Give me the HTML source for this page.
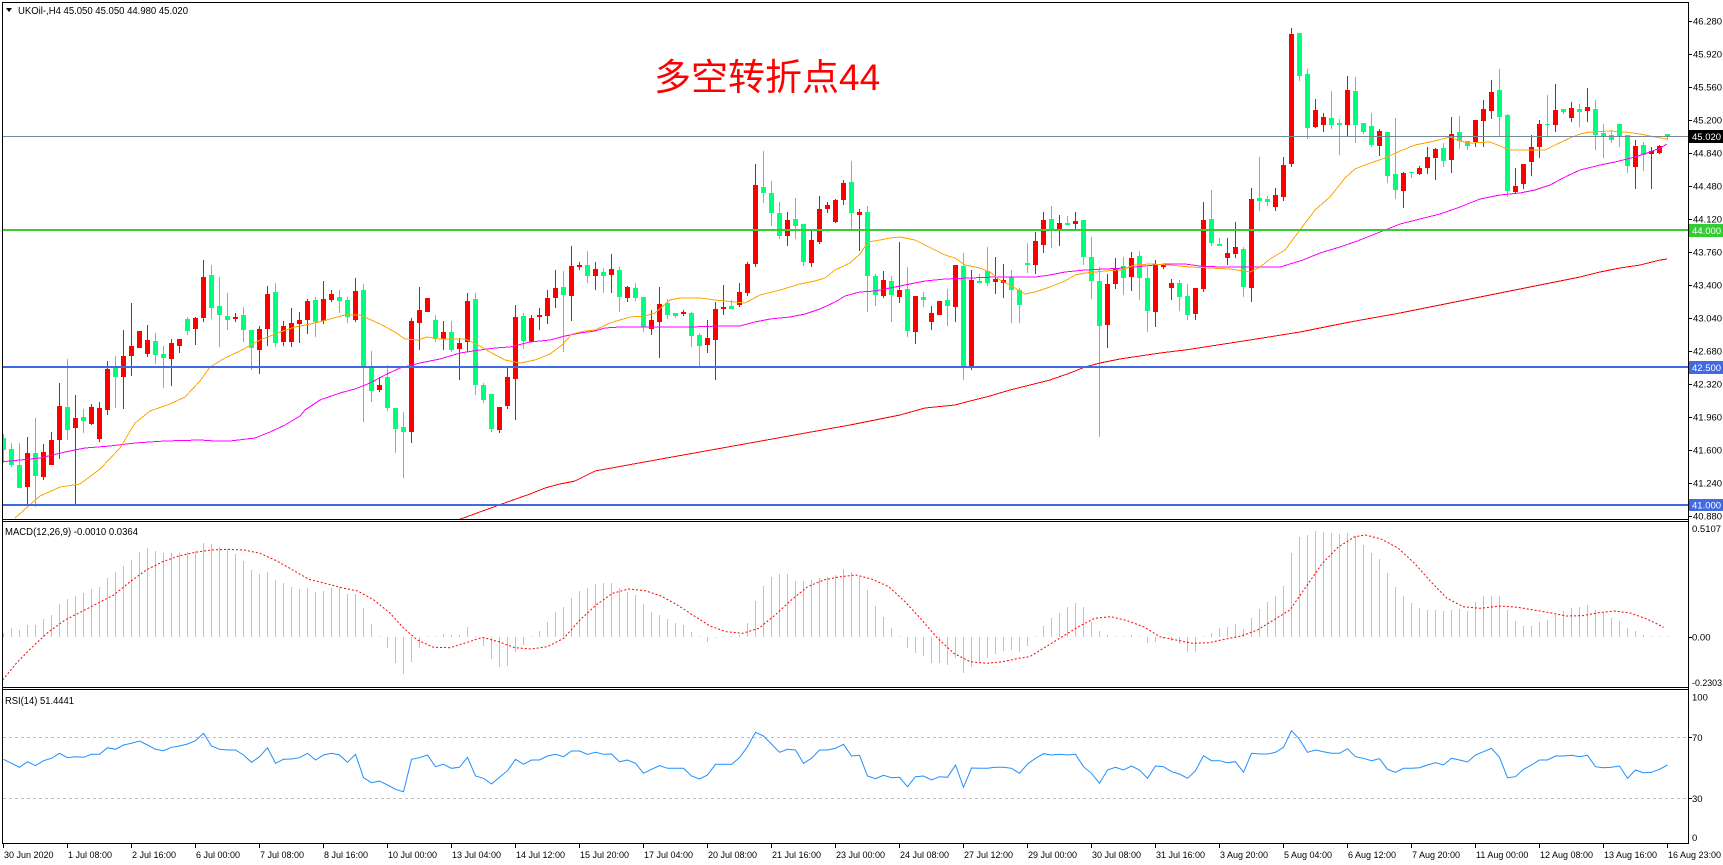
<!DOCTYPE html>
<html><head><meta charset="utf-8">
<style>
html,body{margin:0;padding:0;background:#fff;overflow:hidden;}
svg{display:block;}
text{font-family:"Liberation Sans","DejaVu Sans",sans-serif;font-size:10px;fill:#000;}
.ax text{font-size:9.5px;}
.tm text{font-size:9px;}
</style></head>
<body>
<svg id="s" width="1723" height="865" viewBox="0 0 1723 865" xmlns="http://www.w3.org/2000/svg">
<defs>
<clipPath id="cm"><rect x="3" y="3" width="1685" height="516"/></clipPath>
<clipPath id="cd"><rect x="3" y="522" width="1685" height="165"/></clipPath>
<clipPath id="cr"><rect x="3" y="690" width="1685" height="153"/></clipPath>
</defs>
<rect width="1723" height="865" fill="#fff"/>

<g id="candles" clip-path="url(#cm)" shape-rendering="crispEdges"></g>

<g clip-path="url(#cm)" fill="none" stroke-width="1" shape-rendering="crispEdges">
<polyline stroke="#ff0000" points="455,521 513,500 530,494 545,488 560,484 575,481 595,471 650,461 700,452 750,443 800,434 850,425 900,415 925,408 955,405 970,401 990,396 1010,390 1030,385 1050,380 1070,373 1085,367 1100,363 1120,359 1140,356 1160,353 1185,350 1250,340 1300,332 1350,322 1400,313 1440,305 1480,297 1500,293 1520,289 1540,285 1560,281 1580,277 1600,272 1620,268 1640,265 1660,260 1667,259"/>
<polyline stroke="#ff00ff" points="0,462 40,458 65,452 85,448 110,446 135,443 165,441 200,440 215,441 230,441 255,438 270,432 285,425 300,416 305,410 320,400 340,393 355,389 370,383 385,375 400,368 420,363 440,359 460,353 480,350 495,348 510,347 530,342 550,340 565,336 580,333 595,331 605,328 620,327 640,327 665,327 690,327 720,326 740,326 755,322 770,319 790,317 805,314 820,309 835,302 845,296 860,292 875,291 890,288 905,285 925,281 945,279 970,278 995,277 1015,277 1035,277 1050,275 1065,272 1085,270 1105,269 1125,268 1145,266 1165,264 1185,264 1200,266 1220,267 1250,267 1280,267 1303,260 1320,253 1340,247 1360,240 1380,232 1400,224 1420,219 1440,214 1460,207 1480,199 1500,195 1520,193 1535,190 1550,185 1565,177 1580,170 1600,165 1615,162 1635,157 1650,152 1660,148 1667,144"/>
<polyline stroke="#ffa500" points="15,518 40,496 60,487 80,484 100,469 120,448 135,423 150,411 170,404 185,397 200,381 210,367 225,358 240,351 260,340 280,332 295,327 315,323 345,315 360,315 380,324 395,332 405,339 418,340 427,337 440,339 465,339 478,345 490,352 505,360 520,363 535,360 550,354 562,345 572,334 585,331 595,330 610,323 630,317 645,316 655,313 670,300 680,298 700,298 715,300 735,302 745,303 760,295 780,290 800,284 815,281 825,278 835,270 850,263 860,254 868,242 880,240 890,238 900,237 915,240 925,245 935,250 945,255 955,258 965,265 980,268 990,272 1000,280 1010,285 1025,294 1035,292 1050,287 1065,281 1075,275 1085,273 1105,271 1120,270 1135,265 1150,264 1170,265 1190,267 1210,268 1230,269 1250,272 1260,267 1270,259 1285,250 1300,230 1315,210 1330,197 1345,178 1355,169 1365,165 1385,158 1400,151 1415,145 1430,142 1450,137 1460,141 1470,143 1490,142 1510,150 1530,150 1545,150 1555,145 1570,138 1580,134 1590,132 1610,131 1625,132 1640,134 1655,137 1667,139"/>
</g>

<g shape-rendering="crispEdges">
<rect x="3" y="136" width="1685" height="1" fill="#778899"/>
<rect x="3" y="229" width="1685" height="2" fill="#32cd32"/>
<rect x="3" y="366" width="1685" height="2" fill="#4169e1"/>
<rect x="3" y="504" width="1685" height="2" fill="#4169e1"/>
</g>

<text x="654" y="90" style="font-family:'Liberation Sans','Noto Sans CJK SC',sans-serif;font-size:37px;fill:#ff0000;">多空转折点44</text>

<!-- header -->
<polygon points="6,8 12,8 9,12" fill="#000"/>
<text x="18" y="14" textLength="170" lengthAdjust="spacingAndGlyphs">UKOil-,H4  45.050 45.050 44.980 45.020</text>

<!-- MACD -->
<g id="macd" clip-path="url(#cd)" shape-rendering="crispEdges"></g>
<polyline id="sig" clip-path="url(#cd)" fill="none" stroke="#ff0000" stroke-width="1" stroke-dasharray="2,2" points=""/>
<text x="5" y="535" textLength="133" lengthAdjust="spacingAndGlyphs">MACD(12,26,9) -0.0010 0.0364</text>

<!-- RSI -->
<g shape-rendering="crispEdges">
<line x1="3" y1="737.5" x2="1688" y2="737.5" stroke="#c0c0c0" stroke-dasharray="3,3"/>
<line x1="3" y1="798.5" x2="1688" y2="798.5" stroke="#c0c0c0" stroke-dasharray="3,3"/>
</g>
<polyline id="rsi" clip-path="url(#cr)" fill="none" stroke="#1e90ff" stroke-width="1" points=""/>
<text x="5" y="704" textLength="69" lengthAdjust="spacingAndGlyphs">RSI(14) 51.4441</text>

<!-- frame -->
<g shape-rendering="crispEdges" stroke="#000" stroke-width="1" fill="none">
<line x1="2" y1="2.5" x2="1689" y2="2.5"/>
<line x1="2.5" y1="2" x2="2.5" y2="844"/>
<line x1="1688.5" y1="2" x2="1688.5" y2="844"/>
<line x1="2" y1="519.5" x2="1688" y2="519.5"/>
<line x1="2" y1="521.5" x2="1688" y2="521.5"/>
<line x1="2" y1="687.5" x2="1688" y2="687.5"/>
<line x1="2" y1="689.5" x2="1688" y2="689.5"/>
<line x1="2" y1="843.5" x2="1689" y2="843.5"/>
</g>
<g id="ticks" shape-rendering="crispEdges" stroke="#000" stroke-width="1"></g>

<!-- right axis labels -->
<g class="ax">
<text x="1693" y="24.5">46.280</text>
<text x="1693" y="57.5">45.920</text>
<text x="1693" y="90.5">45.560</text>
<text x="1693" y="123.5">45.200</text>
<text x="1693" y="156.5">44.840</text>
<text x="1693" y="189.5">44.480</text>
<text x="1693" y="222.5">44.120</text>
<text x="1693" y="255.5">43.760</text>
<text x="1693" y="288.5">43.400</text>
<text x="1693" y="321.5">43.040</text>
<text x="1693" y="354.5">42.680</text>
<text x="1693" y="387.5">42.320</text>
<text x="1693" y="420.5">41.960</text>
<text x="1693" y="453.5">41.600</text>
<text x="1693" y="486.5">41.240</text>
<text x="1693" y="519.5">40.880</text>
</g>
<g shape-rendering="crispEdges">
<rect x="1689" y="130" width="34" height="13" fill="#000"/>
<rect x="1689" y="224" width="34" height="13" fill="#32cd32"/>
<rect x="1689" y="361" width="34" height="13" fill="#4169e1"/>
<rect x="1689" y="499" width="34" height="12" fill="#4169e1"/>
</g>
<g class="ax">
<text x="1692" y="140" style="fill:#fff">45.020</text>
<text x="1692" y="234" style="fill:#fff">44.000</text>
<text x="1692" y="371" style="fill:#fff">42.500</text>
<text x="1692" y="508.5" style="fill:#fff">41.000</text>
</g>
<g class="ax">
<text x="1692" y="532">0.5107</text>
<text x="1692" y="640.5">0.00</text>
<text x="1692" y="686" textLength="30" lengthAdjust="spacingAndGlyphs">-0.2303</text>
<text x="1692" y="700.5">100</text>
<text x="1692" y="741">70</text>
<text x="1692" y="802">30</text>
<text x="1692" y="841">0</text>
</g>

<!-- time labels -->
<g class="tm">
<text x="4" y="858">30 Jun 2020</text>
<text x="68" y="858">1 Jul 08:00</text>
<text x="132" y="858">2 Jul 16:00</text>
<text x="196" y="858">6 Jul 00:00</text>
<text x="260" y="858">7 Jul 08:00</text>
<text x="324" y="858">8 Jul 16:00</text>
<text x="388" y="858">10 Jul 00:00</text>
<text x="452" y="858">13 Jul 04:00</text>
<text x="516" y="858">14 Jul 12:00</text>
<text x="580" y="858">15 Jul 20:00</text>
<text x="644" y="858">17 Jul 04:00</text>
<text x="708" y="858">20 Jul 08:00</text>
<text x="772" y="858">21 Jul 16:00</text>
<text x="836" y="858">23 Jul 00:00</text>
<text x="900" y="858">24 Jul 08:00</text>
<text x="964" y="858">27 Jul 12:00</text>
<text x="1028" y="858">29 Jul 00:00</text>
<text x="1092" y="858">30 Jul 08:00</text>
<text x="1156" y="858">31 Jul 16:00</text>
<text x="1220" y="858">3 Aug 20:00</text>
<text x="1284" y="858">5 Aug 04:00</text>
<text x="1348" y="858">6 Aug 12:00</text>
<text x="1412" y="858">7 Aug 20:00</text>
<text x="1476" y="858">11 Aug 00:00</text>
<text x="1540" y="858">12 Aug 08:00</text>
<text x="1604" y="858">13 Aug 16:00</text>
<text x="1668" y="858">16 Aug 23:00</text>
</g>
</svg>
<script>
(function(){
var NS="http://www.w3.org/2000/svg";
function el(p,n,a){var e=document.createElementNS(NS,n);for(var k in a)e.setAttribute(k,a[k]);p.appendChild(e);return e;}
var K=[
[0,438,450,434,463],[0,449,465,443,467],[0,465,488,443,488],[1,453,487,437,504],[0,453,476,418,507],
[1,452,477,444,480],[1,440,465,432,465],[1,406,440,383,459],[0,407,430,359,440],[1,418,428,395,504],
[0,417,421,409,433],[1,407,424,404,425],[1,408,439,402,442],[1,369,410,361,415],[0,367,377,356,408],
[1,356,377,330,409],[1,346,356,303,376],[1,331,348,331,348],[1,340,354,325,357],[0,341,355,333,364],
[0,354,358,346,388],[1,343,359,339,386],[1,339,346,339,353],[0,319,331,317,335],[1,318,329,317,345],
[1,277,318,260,322],[0,275,308,265,319],[0,306,315,277,347],[0,316,320,293,330],[1,317,319,313,322],
[0,315,330,307,342],[0,330,348,330,370],[1,329,350,326,374],[1,294,329,286,346],[0,292,343,283,347],
[1,326,342,321,346],[1,323,342,308,347],[1,320,324,312,343],[1,301,320,299,334],[0,300,322,297,337],
[1,299,321,281,324],[1,294,300,290,302],[0,297,301,290,313],[0,300,317,297,323],[1,291,320,278,322],
[0,290,367,284,422],[0,367,391,351,402],[1,385,390,377,392],[0,377,408,365,411],[0,408,429,408,453],
[0,427,432,412,478],[1,321,432,318,443],[1,310,323,287,350],[1,298,312,298,312],[0,320,339,315,342],
[1,332,339,321,350],[0,332,350,321,352],[1,343,349,338,380],[1,301,342,293,352],[0,299,385,293,395],
[0,385,400,383,403],[0,394,429,394,432],[1,407,430,407,433],[1,377,406,368,409],[1,317,379,305,420],
[0,316,341,313,349],[1,318,342,315,342],[1,315,317,308,330],[1,298,316,290,324],[1,288,298,270,308],
[0,287,295,271,352],[1,266,296,246,321],[1,265,267,262,270],[0,265,276,251,283],[1,269,276,262,290],
[0,272,276,268,293],[1,269,275,254,293],[0,270,297,267,312],[1,287,298,286,302],[0,288,298,283,301],
[0,297,327,297,332],[1,320,329,310,335],[1,304,322,287,358],[0,303,315,299,319],[0,313,316,313,318],
[1,312,314,310,316],[0,313,336,312,347],[0,335,346,333,367],[1,338,345,320,353],[1,309,340,302,380],
[1,307,309,285,315],[0,306,309,300,309],[1,292,305,283,307],[1,264,293,262,296],[1,185,264,164,267],
[0,187,193,151,203],[0,193,213,181,226],[0,213,236,202,239],[1,220,236,212,246],[0,219,226,198,239],
[0,224,262,224,266],[1,240,263,231,267],[1,209,242,196,244],[1,205,209,202,213],[1,200,222,199,223],
[1,183,200,180,205],[0,182,213,161,230],[1,212,215,209,251],[0,212,276,206,312],[0,276,295,274,306],
[1,280,296,271,298],[0,281,295,276,322],[1,290,297,242,303],[0,289,331,267,337],[1,296,332,296,344],
[0,297,300,292,307],[1,313,322,306,330],[1,301,315,301,315],[0,300,306,289,326],[1,265,307,265,322],
[0,266,367,253,380],[1,280,367,270,370],[0,281,283,274,283],[0,271,283,247,286],[1,279,282,257,294],
[1,280,283,264,298],[0,277,290,270,323],[0,290,305,288,323],[0,263,265,243,273],[1,241,265,232,274],
[1,220,245,212,253],[0,219,230,206,248],[1,223,229,215,246],[0,223,225,216,225],[1,221,224,212,229],
[0,220,257,220,265],[0,257,281,237,299],[0,281,326,267,437],[1,284,325,274,348],[1,268,284,258,289],
[0,266,278,257,295],[1,258,277,252,291],[0,256,278,251,300],[0,278,311,267,332],[1,265,312,260,327],
[1,264,267,264,269],[1,283,288,279,300],[0,283,297,280,311],[0,296,315,284,320],[1,288,314,288,320],
[1,220,289,202,292],[0,219,243,190,246],[0,244,246,238,246],[1,253,258,238,265],[1,247,254,222,258],
[0,249,287,247,297],[1,199,288,188,302],[0,198,201,157,211],[0,199,202,196,206],[1,195,207,188,211],
[1,165,197,157,201],[1,34,164,28,167],[0,33,76,33,81],[0,74,128,69,139],[1,110,127,99,128],
[1,117,125,113,132],[0,118,125,91,129],[0,123,125,119,155],[1,90,125,76,136],[0,91,125,77,143],
[0,123,132,123,134],[0,126,145,113,147],[1,131,146,129,156],[0,132,176,132,183],[0,174,190,118,199],
[1,173,191,172,208],[0,172,173,172,178],[1,168,174,166,175],[1,157,168,147,174],[1,149,158,148,180],
[0,148,161,143,167],[1,134,160,117,173],[0,132,141,116,149],[0,141,146,141,150],[1,120,142,120,147],
[1,109,121,100,147],[1,92,111,80,119],[0,90,117,69,136],[0,115,191,114,197],[1,186,192,168,193],
[1,164,184,164,189],[1,147,162,135,176],[1,124,147,120,158],[0,124,125,95,137],[1,110,125,84,132],
[0,109,112,109,114],[1,108,118,102,122],[0,109,112,104,127],[1,107,111,88,122],[0,109,135,100,150],
[0,133,136,124,158],[0,135,140,130,143],[0,124,137,124,147],[0,135,166,135,173],[1,146,167,140,189],
[0,145,155,142,171],[1,151,154,147,189],[1,146,153,145,154],[0,134,137,134,140]
];
var g=document.getElementById('candles');
K.forEach(function(d,i){
  var c=3+8*i, col=d[0]?'#ff0000':'#00ff7f';
  el(g,'rect',{x:c,y:d[3],width:1,height:Math.max(1,d[4]-d[3]),fill:col});
  el(g,'rect',{x:c-2,y:d[1],width:5,height:Math.max(1,d[2]-d[1]),fill:col});
});
var H=[338,325,330,315,315,298,285,253,237,228,218,208,200,175,157,138,120,97,85,93,100,100,100,95,93,70,72,80,88,103,123,150,163,157,180,190,200,208,205,215,213,205,200,222,222,263,312,348,383,428,462,425,385,352,350,342,345,345,320,352,378,418,440,437,395,375,352,333,305,277,262,233,212,205,193,190,190,205,215,225,253,275,285,297,310,315,335,348,365,355,348,348,345,308,242,198,172,162,162,183,183,180,175,170,165,148,
157,170,210,258,290,323,348,385,398,408,428,430,435,415,458,440,425,415,402,393,390,395,378,350,318,293,278,262,248,262,305,332,345,350,350,345,350,370,365,358,362,373,395,395,350,338,325,320,313,328,293,267,245,228,197,100,52,45,33,35,38,42,40,47,75,100,118,158,200,228,248,265,270,270,272,270,268,272,245,228,228,228,270,303,318,318,306,300,283,273,265,260,255,270,278,293,303,325,333,345,348,350,350];
var m=document.getElementById('macd'), Z=637;
H.forEach(function(v,i){
  var y=Math.round(520+v/3), c=3+8*i;
  var t=Math.min(y,Z), h=Math.abs(Z-y);
  if(h<1){h=1;t=Z-1;}
  el(m,'rect',{x:c,y:t,width:1,height:h,fill:'#c0c0c0'});
});
var S1=[[5,480],[30,430],[60,380],[90,335],[120,300],[150,275],[180,250],[210,225],[240,185],[270,150],[300,125],[330,108],[360,97],[390,90],[420,88],[450,90],[480,100],[510,122],[540,150],[570,178],[600,190],[630,203],[660,213],[690,240],[720,280],[745,325],[770,360],[800,382],[830,383],[860,368],[890,352],[920,365],[950,383],[980,387],[1010,380],[1040,355],[1070,300],[1100,255],[1130,220],[1160,207],[1190,212],[1220,228],[1250,255],[1280,287],[1310,318],[1340,335],[1370,340],[1400,325],[1430,285],[1460,240],[1490,200],[1520,180],[1550,170]];
var S2=[[0,170],[30,165],[60,178],[90,200],[120,245],[150,298],[180,355],[210,400],[240,425],[270,430],[300,425],[330,415],[350,410],[380,380],[410,350],[440,320],[470,295],[500,290],[530,302],[560,320],[590,350],[620,360],[650,370],[680,368],[710,358],[740,348],[770,330],[800,300],[830,270],[860,200],[890,130],[920,80],[950,50],[970,45],[1000,58],[1030,85],[1060,130],[1090,185],[1120,235],[1150,260],[1180,265],[1220,258],[1250,262],[1280,270],[1310,278],[1340,288],[1370,287],[1400,278],[1430,273],[1460,280],[1490,298],[1520,322]];
var pts=[];
S1.forEach(function(p){pts.push((p[0]/1.845).toFixed(1)+','+(520+p[1]/3).toFixed(1));});
S2.forEach(function(p){pts.push((840+p[0]/1.845).toFixed(1)+','+(520+p[1]/3).toFixed(1));});
document.getElementById('sig').setAttribute('points',pts.join(' '));
var R=[718,730,742,725,737,722,715,700,713,710,712,703,703,683,688,675,670,663,675,688,692,682,678,672,662,640,678,688,690,690,705,727,710,683,730,718,717,713,700,720,705,700,705,727,703,773,788,783,795,808,815,718,713,705,740,733,745,742,712,768,775,792,772,752,718,733,720,720,708,703,710,693,693,703,697,703,702,725,720,730,760,748,737,745,745,745,768,777,765,733,733,733,713,680,637,648,672,697,688,690,730,715,690,690,685,673,
708,706,768,776,766,773,772,800,770,768,780,770,772,735,802,744,745,745,742,742,745,760,732,715,701,705,703,705,703,740,760,790,750,742,750,738,750,775,738,740,755,762,775,752,707,722,722,728,725,757,700,702,702,697,682,632,658,697,690,695,700,700,686,710,715,722,716,748,757,745,745,743,735,728,735,715,720,726,705,695,685,712,773,770,748,735,720,720,708,708,706,710,706,740,743,742,738,775,750,758,757,748,735];
var rp=[];
R.forEach(function(v,i){rp.push((3.5+8*i)+','+(520+v/3).toFixed(1));});
document.getElementById('rsi').setAttribute('points',rp.join(' '));
var tk=document.getElementById('ticks');
for(var k=0;k<27;k++){var x=3+64*k+0.5;el(tk,'line',{x1:x,y1:844,x2:x,y2:848});}
[21,54,87,120,153,186,219,252,285,318,351,384,417,450,483,516,637,737,798].forEach(function(y){el(tk,'line',{x1:1689,y1:y+0.5,x2:1692,y2:y+0.5});});
})();
</script>
</body></html>
